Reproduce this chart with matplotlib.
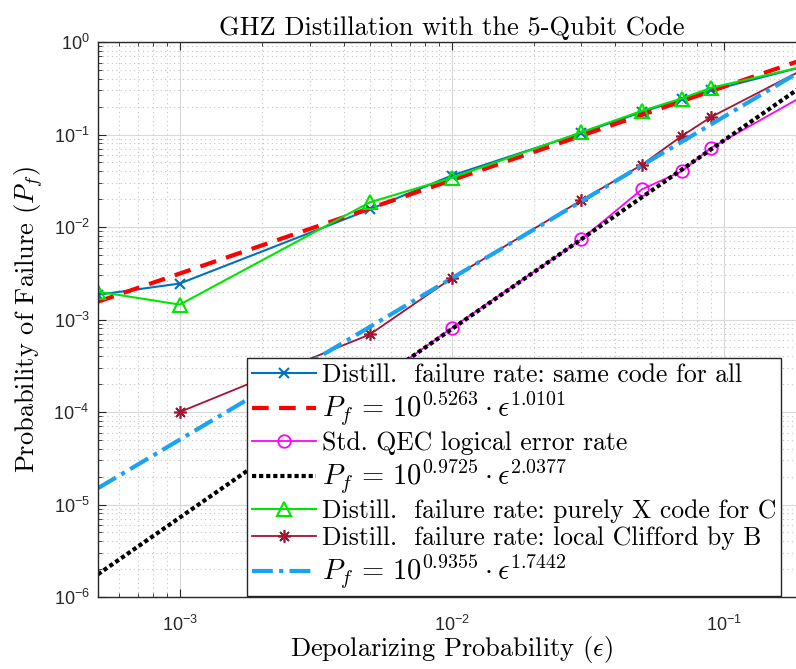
import matplotlib
matplotlib.use("Agg")
import matplotlib.pyplot as plt
from matplotlib.ticker import LogLocator, NullFormatter

plt.rcParams['font.family'] = ['Liberation Sans', 'DejaVu Sans']
plt.rcParams['mathtext.fontset'] = 'cm'

# depolarizing probabilities (x)
eps = [5e-4, 1e-3, 5e-3, 1e-2, 3e-2, 5e-2, 7e-2, 9e-2, 2e-1]

# distillation failure rate, same code for all
pf_same = [1.85e-3, 2.45e-3, 1.55e-2, 3.6e-2, 1.04e-1, 1.75e-1, 2.4e-1, 3.0e-1, 5.5e-1]
# distillation, purely X code for C
pf_xcode = [2.0e-3, 1.45e-3, 1.85e-2, 3.4e-2, 1.06e-1, 1.8e-1, 2.45e-1, 3.2e-1, 5.5e-1]

# standard QEC logical error rate (starts at 5e-3)
eps_qec = [5e-3, 1e-2, 3e-2, 5e-2, 7e-2, 9e-2, 2e-1]
pf_qec = [1.9e-4, 8.1e-4, 7.4e-3, 2.55e-2, 4.0e-2, 7.2e-2, 2.7e-1]

# local Clifford by B (starts at 1e-3)
eps_lc = [1e-3, 5e-3, 1e-2, 3e-2, 5e-2, 7e-2, 9e-2, 2e-1]
pf_lc = [1.0e-4, 6.9e-4, 2.8e-3, 1.95e-2, 4.7e-2, 9.6e-2, 1.55e-1, 5.2e-1]

# fitted lines, end points
eps_fit = [5e-4, 2e-1]
fit_same = [1.56e-3, 0.66]
fit_qec = [1.76e-6, 0.353]
fit_lc = [1.5e-5, 0.52]

labels = [
    'Distill.  failure rate: same code for all',
    r'$P_f\,=\,10^{0.5263}\cdot\epsilon^{1.0101}$',
    'Std. QEC logical error rate',
    r'$P_f\,=\,10^{0.9725}\cdot\epsilon^{2.0377}$',
    'Distill.  failure rate: purely X code for C',
    'Distill.  failure rate: local Clifford by B',
    r'$P_f\,=\,10^{0.9355}\cdot\epsilon^{1.7442}$',
]

fig = plt.figure(figsize=(7.96, 6.69), dpi=100)
ax = fig.add_axes([0.123, 0.1076, 0.889, 0.8296])

ax.plot(eps, pf_same, color='#0072BD', lw=1.5, marker='x', ms=7, mew=1.5, label=labels[0])
ax.plot(eps_fit, fit_same, color='#FF0000', lw=3, ls=(0, (4, 2.5)), label=labels[1])
ax.plot(eps_qec, pf_qec, color='#FF00FF', lw=1.3, marker='o', ms=9, mfc='none', mew=1.3, label=labels[2])
ax.plot(eps_fit, fit_qec, color='black', lw=3, ls=(0, (1, 0.7)), label=labels[3])
ax.plot(eps, pf_xcode, color='#00E600', lw=1.5, marker='^', ms=10, mfc='none', mew=1.5, label=labels[4])
ax.plot(eps_lc, pf_lc, color='#A2142F', lw=1.3, marker=(8, 2, 0), ms=9, mew=1.2, label=labels[5])
ax.plot(eps_fit, fit_lc, color='#1AA3F5', lw=3, ls=(0, (5, 1.5, 1, 1.5)), label=labels[6])

ax.set_xscale('log')
ax.set_yscale('log')
ax.set_xlim(5e-4, 2e-1)
ax.set_ylim(1e-6, 1)

ax.yaxis.set_major_locator(LogLocator(base=10, numticks=10))
ax.yaxis.set_minor_locator(LogLocator(base=10, subs=range(2, 10), numticks=20))
ax.yaxis.set_minor_formatter(NullFormatter())
ax.xaxis.set_minor_formatter(NullFormatter())

ax.grid(True, which='major', color='#d9d9d9', lw=0.8, ls='-')
ax.grid(True, which='minor', color='#c4c4c4', lw=0.8, ls=(0, (1, 3)))
ax.set_axisbelow(True)

ax.tick_params(which='both', direction='in', top=True, right=True, colors='#262626',
               labelsize=13, labelcolor='#262626')
ax.tick_params(which='major', length=6, width=0.8)
ax.tick_params(which='minor', length=3, width=0.6)
ax.tick_params(axis='x', which='major', pad=13)
ax.tick_params(axis='y', which='major', pad=6)
for sp in ax.spines.values():
    sp.set_color('#262626')
    sp.set_linewidth(1.0)

ax.set_title('GHZ Distillation with the 5-Qubit Code', fontfamily='cmr10', fontsize=19, pad=5)
ax.set_xlabel(r'Depolarizing Probability ($\epsilon$)', fontfamily='cmr10', fontsize=19, labelpad=-1)
ax.set_ylabel(r'Probability of Failure ($P_f$)', fontfamily='cmr10', fontsize=19, labelpad=6)

leg = ax.legend(loc='upper left', bbox_to_anchor=(0.2105, 0.4306), borderaxespad=0,
                prop={'family': 'cmr10', 'size': 18.5}, fancybox=False, framealpha=1,
                edgecolor='#262626', handlelength=2.5, handletextpad=0.22,
                labelspacing=0.13, borderpad=0.2)
leg.get_frame().set_linewidth(1.0)
# formula entries are set a bit larger, like the LaTeX rendering
for i in (1, 3, 6):
    leg.get_texts()[i].set_fontsize(20.5)

fig.savefig('out.png', dpi=100)
